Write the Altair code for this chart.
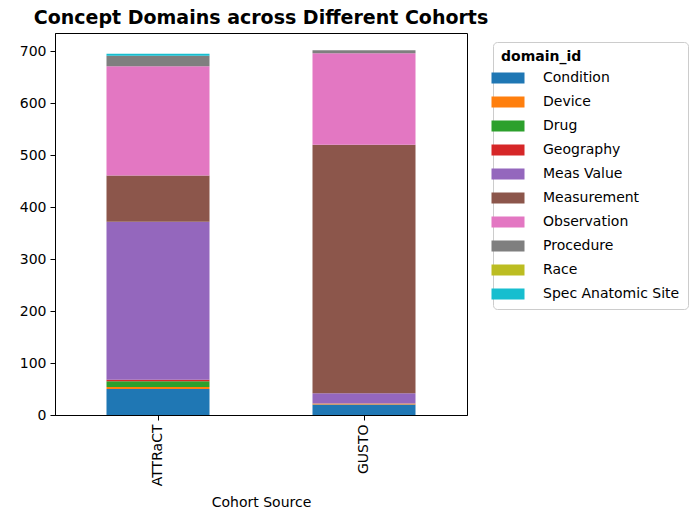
import altair as alt
import pandas as pd

cohorts = ["ATTRaCT", "GUSTO"]
domains = ["Condition", "Device", "Drug", "Geography", "Meas Value",
           "Measurement", "Observation", "Procedure", "Race", "Spec Anatomic Site"]
attract_counts = [50, 4, 11, 3, 304, 89, 210, 20, 0, 4]
gusto_counts = [20, 2, 0, 0, 20, 478, 176, 6, 0, 0]
colors = ["#1f77b4", "#ff7f0e", "#2ca02c", "#d62728", "#9467bd",
          "#8c564b", "#e377c2", "#7f7f7f", "#bcbd22", "#17becf"]

rows = []
for c, vals in zip(cohorts, [attract_counts, gusto_counts]):
    for i, (d, v) in enumerate(zip(domains, vals)):
        rows.append({"cohort": c, "domain_id": d, "count": v, "idx": i})
df = pd.DataFrame(rows)

FONT = "DejaVu Sans"

chart = alt.Chart(df).mark_bar(stroke=None).encode(
    x=alt.X("cohort:N", sort=cohorts, title="Cohort Source",
            scale=alt.Scale(paddingInner=0.5, paddingOuter=0.25),
            axis=alt.Axis(labelAngle=270, labelFontSize=14, titleFontSize=14,
                          titleFontWeight="normal", labelColor="black", titleColor="black",
                          tickColor="black", domainColor="black", tickSize=5,
                          labelPadding=4, titlePadding=10)),
    y=alt.Y("count:Q", stack="zero", title=None,
            scale=alt.Scale(domain=[0, 735], nice=False),
            axis=alt.Axis(values=[0, 100, 200, 300, 400, 500, 600, 700], grid=False,
                          labelFontSize=14, labelColor="black", tickColor="black",
                          domainColor="black", tickSize=5, labelPadding=4)),
    color=alt.Color("domain_id:N", sort=domains,
                    scale=alt.Scale(domain=domains, range=colors),
                    legend=alt.Legend(orient="none", legendX=438, legendY=9,
                                      title="domain_id", titleFontSize=14, titleFontWeight="bold",
                                      titleColor="black", labelFontSize=14, labelColor="black",
                                      symbolType="M-3,-1H3V1H-3Z", symbolSize=121,
                                      symbolStrokeWidth=0, symbolOpacity=1,
                                      labelOffset=28, rowPadding=10, titlePadding=7,
                                      padding=8, strokeColor="#cccccc", cornerRadius=4,
                                      fillColor="white", offset=0)),
    order=alt.Order("idx:Q", sort="ascending"),
).properties(
    width=412, height=382,
    title=alt.TitleParams("Concept Domains across Different Cohorts", fontSize=19,
                          fontWeight="bold", anchor="middle", color="black", offset=5),
    autosize=alt.AutoSizeParams(type="none"),
    padding={"left": 47, "top": 25, "right": 223, "bottom": 96},
).configure(font=FONT).configure_view(stroke="black", strokeWidth=1)

chart.save("out.html", embed_options={"renderer": "svg", "actions": False})
